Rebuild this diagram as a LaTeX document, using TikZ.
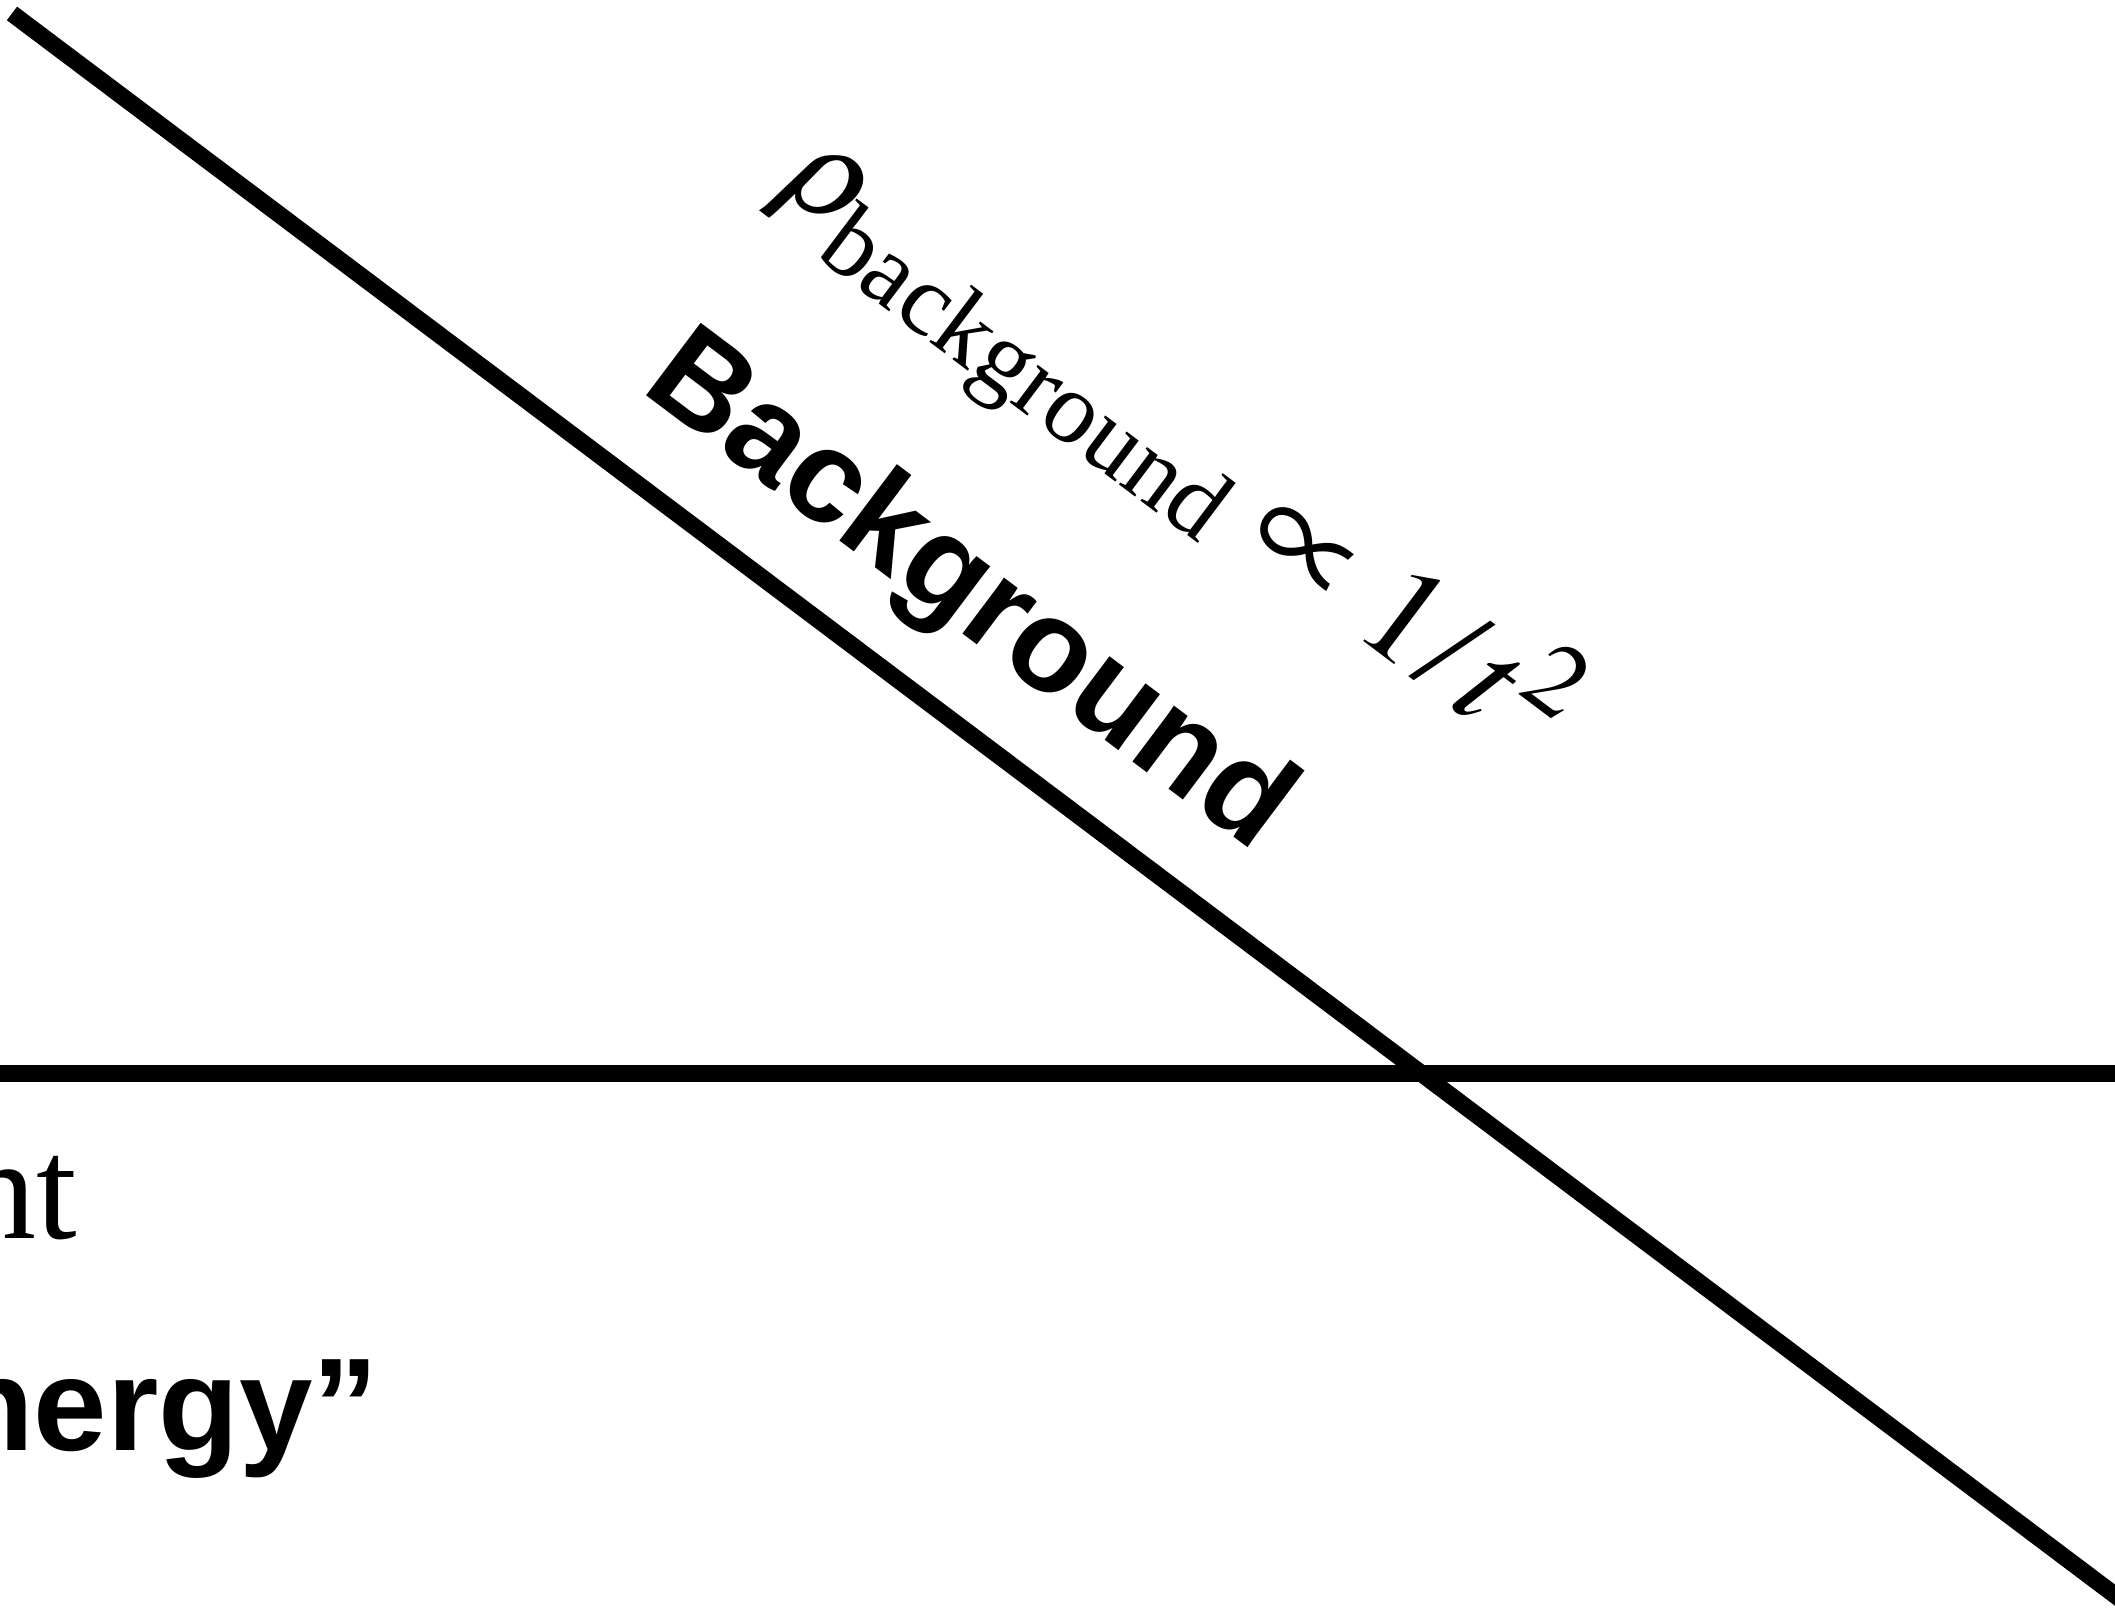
\documentclass[tikz,border=0pt]{standalone}
\usepackage{graphicx}
\usepackage{mathptmx}
\usepackage{fontspec}
\setmainfont{Liberation Serif}
\setsansfont{Liberation Sans}
\begin{document}
\begin{tikzpicture}[x=0.5pt,y=0.5pt,
  thickline/.style={line width=8.5pt},
  bigserif/.style={inner sep=0pt,font=\fontsize{66}{79}\selectfont},
  ntserif/.style={inner sep=0pt,font=\fontsize{73}{88}\selectfont},
  bigsans/.style={inner sep=0pt,font=\sffamily\bfseries\fontsize{66}{79}\selectfont}]
\useasboundingbox (0,0) rectangle (2115,1612);
\coordinate (hA) at (-20,538);
\coordinate (hB) at (2135,538);
\coordinate (dA) at (12,1598.5);
\coordinate (dB) at (2170,-24.5);
\draw[thickline] (hA) -- (hB);
\draw[thickline] (dA) -- (dB);
\node[bigsans, rotate=-36.94, anchor=base west] (bg) at (639,1222) {Background};
\node[bigserif, rotate=-36.94, anchor=base west] (rho) at (775,1426)
  {$\rho_{\raisebox{-6pt}{\fontsize{51}{61}\selectfont background}}$\raisebox{-5pt}{\fontsize{70}{84}\selectfont$\mskip\thickmuskip\scalebox{1.1}{$\propto$}\mskip\thickmuskip 1\kern2pt\hbox{/}\kern6pt t^2$}};
\node[ntserif, anchor=base east] (nt) at (77,373) {nt};
\node[bigsans, anchor=base east] (energy) at (379,162) {nergy”};
\end{tikzpicture}
\end{document}
